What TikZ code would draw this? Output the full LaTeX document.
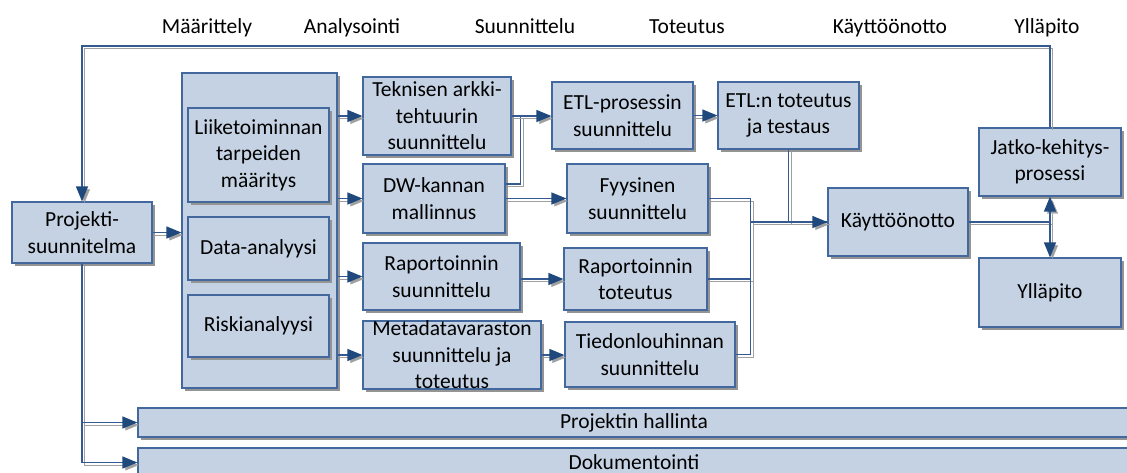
\documentclass[tikz,border=0pt]{standalone}
\usepackage{fontspec}
\setmainfont{Carlito}
\usetikzlibrary{arrows.meta,shadows}
\definecolor{boxfill}{RGB}{197,210,227}
\definecolor{boxline}{RGB}{66,104,157}
\definecolor{linkc}{RGB}{52,90,145}
\definecolor{tipc}{RGB}{31,73,125}
\definecolor{shadowc}{RGB}{160,160,160}

\tikzset{
  box/.style={draw=boxline, fill=boxfill, line width=1.2pt, inner sep=0pt, align=center,
    general shadow={fill=black!42, shadow xshift=3pt, shadow yshift=-3pt}},
  link/.style={draw=linkc, line width=1.3pt,
    preaction={draw=shadowc, transform canvas={shift={(2.5pt,-2.5pt)}}}},
  arrowlink/.style={draw=linkc, line width=1.3pt,
    -{Triangle[length=15pt,width=12pt,color=tipc]},
    preaction={draw=shadowc, -{Triangle[length=15pt,width=12pt,color=shadowc]},
      transform canvas={shift={(2.5pt,-2.5pt)}}}},
  phase/.style={anchor=base, inner sep=0pt},
}

\begin{document}
\begin{tikzpicture}[x=1pt, y=-1pt, font=\fontsize{21.5pt}{26.5pt}\selectfont]
\useasboundingbox (0,0) rectangle (1127,472);
\clip (0,0) rectangle (1127,472);

% phase headings
\node[phase] (hm) at (207,33) {Määrittely};
\node[phase] (ha) at (352,33) {Analysointi};
\node[phase] (hs) at (525,33) {Suunnittelu};
\node[phase] (ht) at (687,33) {Toteutus};
\node[phase] (hk) at (890,33) {Käyttöönotto};
\node[phase] (hy) at (1047,33) {Ylläpito};

% boxes
\node[box, minimum width=140, minimum height=61] (proj) at (82,232.5) {Projekti-\\suunnitelma};
\node[box, minimum width=155, minimum height=315] (cont) at (259.5,230.5) {};
\node[box, minimum width=141, minimum height=94] (liike) at (258.5,155) {Liiketoiminnan\\tarpeiden\\määritys};
\node[box, minimum width=141, minimum height=63] (data) at (258.5,248.5) {Data-analyysi};
\node[box, minimum width=141, minimum height=62] (risk) at (258.5,326) {Riskianalyysi};

\node[box, minimum width=148, minimum height=78] (tek) at (437,116) {Teknisen arkki-\\tehtuurin\\suunnittelu};
\node[box, minimum width=142, minimum height=69] (dw) at (434,198.5) {DW-kannan\\mallinnus};
\node[box, minimum width=157, minimum height=67] (raps) at (441.5,276.5) {Raportoinnin\\suunnittelu};
\node[box, minimum width=178, minimum height=66] (meta) at (452,355) {Metadatavaraston\\suunnittelu ja\\toteutus};

\node[box, minimum width=141, minimum height=67] (etlp) at (622.5,115.5) {ETL-prosessin\\suunnittelu};
\node[box, minimum width=141, minimum height=69] (fyys) at (637.5,198.5) {Fyysinen\\suunnittelu};
\node[box, minimum width=143, minimum height=62] (rapt) at (635.5,279) {Raportoinnin\\toteutus};
\node[box, minimum width=170, minimum height=65] (tied) at (650,354.5) {Tiedonlouhinnan\\suunnittelu};

\node[box, minimum width=141, minimum height=67] (etlt) at (788.5,115.5) {ETL:n toteutus\\ja testaus};
\node[box, minimum width=140, minimum height=68] (kayt) at (898,222) {Käyttöönotto};
\node[box, minimum width=142, minimum height=68] (jatko) at (1050,162) {Jatko-kehitys-\\prosessi};
\node[box, minimum width=142, minimum height=69] (yll) at (1050,292.5) {Ylläpito};

\node[box, minimum width=992, minimum height=29] (bar1) at (634,422.5) {Projektin hallinta};
\node[box, minimum width=992, minimum height=29, text depth=0pt] (bar2) at (634,462.5) {\raisebox{1pt}{Dokumentointi}};

% connectors
\draw[arrowlink] (proj.east) -- (proj.east -| cont.west);
\draw[arrowlink] (cont.east |- tek.west) -- (tek.west);
\draw[arrowlink] (cont.east |- dw.west) -- (dw.west);
\draw[arrowlink] (cont.east |- raps.west) -- (raps.west);
\draw[arrowlink] (cont.east |- meta.west) -- (meta.west);

\draw[link] ([yshift=14.5pt]dw.east) -| ([xshift=9pt]tek.east);
\draw[arrowlink] (tek.east) -- (tek.east -| etlp.west);
\draw[arrowlink] (dw.east) -- (dw.east -| fyys.west);
\draw[arrowlink] (raps.east |- rapt.west) -- (rapt.west);
\draw[arrowlink] (meta.east) -- (meta.east -| tied.west);
\draw[arrowlink] (etlp.east) -- (etlp.east -| etlt.west);

\coordinate (mrg) at ([xshift=15pt]tied.east |- kayt.west);
\draw[link] (fyys.east) -| (mrg);
\draw[link] (rapt.east) -| (mrg);
\draw[link] (tied.east) -| (mrg);
\draw[link] (etlt.south) |- (kayt.west);
\draw[arrowlink] (mrg) -- (kayt.west);

\draw[link] (kayt.east) -- (kayt.east -| jatko.south) coordinate (split);
\draw[arrowlink] (split) -- (jatko.south);
\draw[arrowlink] (split) -- (yll.north);

% feedback loop from further development back to the project plan
\coordinate (topy) at (0,46);
\draw[arrowlink] (jatko.north) -- (jatko.north |- topy) -| (proj.north);

\draw[arrowlink] (proj.south) |- (bar2.west);
\draw[arrowlink] (proj.south) |- (bar1.west);
\end{tikzpicture}
\end{document}
